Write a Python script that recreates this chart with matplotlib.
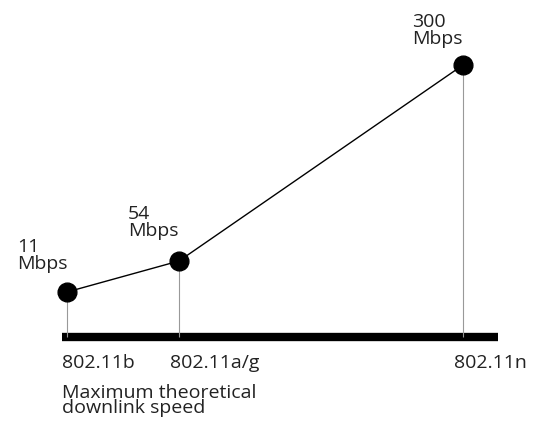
import matplotlib.pyplot as plt

standards = ["802.11b", "802.11a/g", "802.11n"]
speeds = [11, 54, 300]
# schematic positions (not to scale)
x_pos = [5, 117, 401]
height = [45, 76, 272]

plt.rcParams['font.family'] = ['Open Sans', 'DejaVu Sans']

fig = plt.figure(figsize=(5.38, 4.23), dpi=100)
ax = fig.add_axes([0, 0, 1, 1])
ax.set_xlim(-62, 476)
ax.set_ylim(-86, 337)
ax.axis('off')

ax.hlines(0, 0, 436, color='black', lw=6)
ax.vlines(x_pos, 0, height, color='#999999', lw=0.8)
ax.plot(x_pos, height, color='black', lw=1.0, marker='o', ms=13.5, zorder=3)

label_x = [-45, 66, 350]
label_dy = [19, 21, 17]
for lx, h, dy, s in zip(label_x, height, label_dy, speeds):
    ax.text(lx, h + dy, f"{s}\nMbps", fontsize=14, ha='left', va='bottom',
            linespacing=0.92, color='#222222')

tick_x = [0, 108, 465]
tick_ha = ['left', 'left', 'right']
for tx, ha, name in zip(tick_x, tick_ha, standards):
    ax.text(tx, -26, name, fontsize=14, ha=ha, va='center', color='#222222')

ax.text(0, -47, "Maximum theoretical\ndownlink speed", fontsize=14,
        ha='left', va='top', linespacing=0.82, color='#222222')

fig.savefig("out.png", dpi=100)
